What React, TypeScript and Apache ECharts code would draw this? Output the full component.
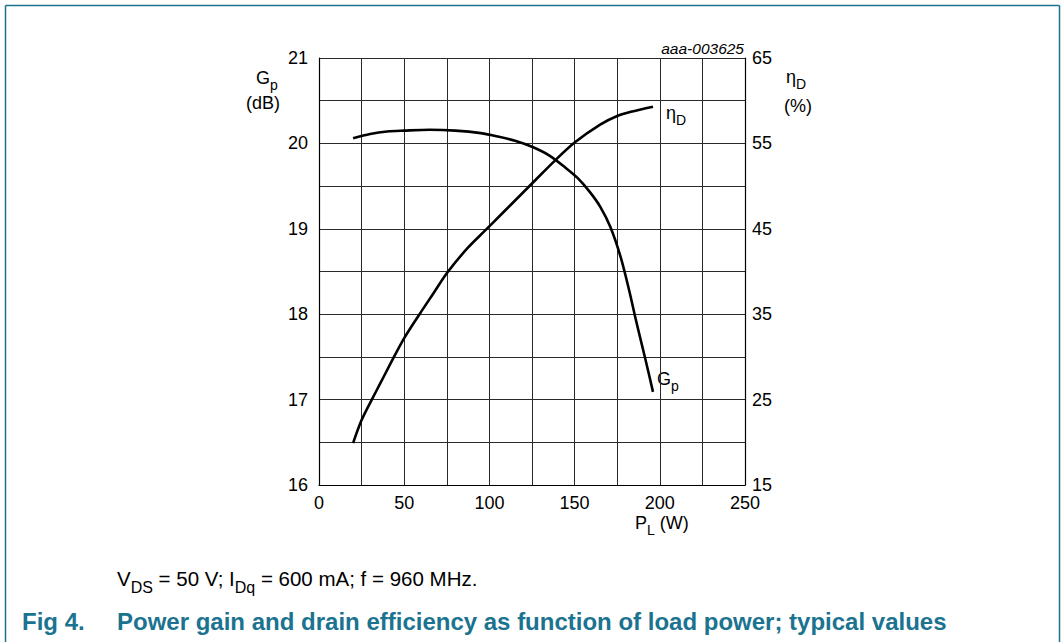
import React, { useEffect, useRef } from "react";
import * as echarts from "echarts";

const gainX = [20, 30, 40, 50, 65, 80, 95, 105, 115, 125, 135, 145, 152, 159, 165, 171, 177, 182, 186, 190, 193, 196];
const gainY = [20.06, 20.11, 20.14, 20.15, 20.16, 20.15, 20.12, 20.08, 20.03, 19.96, 19.86, 19.71, 19.59, 19.43, 19.26, 19.02, 18.67, 18.28, 17.93, 17.6, 17.35, 17.09];
const effX = [20, 25, 31, 37, 44, 50, 59, 67, 75, 87, 98, 106, 118, 125, 138, 150, 165, 175, 183, 196];
const effY = [19.9, 22.6, 25, 27.3, 30, 32.2, 35, 37.4, 39.8, 42.7, 44.9, 46.5, 48.9, 50.3, 52.9, 55.1, 57.2, 58.2, 58.7, 59.3];
const xTickLabels = [0, 50, 100, 150, 200, 250];
const leftTickLabels = [16, 17, 18, 19, 20, 21];
const rightTickLabels = [15, 25, 35, 45, 55, 65];

const FONT = "Liberation Sans, Arial, sans-serif";
const TEAL = "#1b7390";

export default function App() {
  const ref = useRef<HTMLDivElement>(null);
  useEffect(() => {
    if (!ref.current) return;
    const chart = echarts.init(ref.current, null, { renderer: "svg" });
    const mk = (size: number) => {
      const base = { fontSize: size, fontFamily: FONT, color: "#000" };
      const sub = { fontSize: Math.round(size * 0.78), fontFamily: FONT, color: "#000", verticalAlign: "bottom", padding: [0, 0, -Math.round(size * 0.3), 0] };
      return (x: number, y: number, text: string) => ({
        type: "text", x, y, silent: true,
        style: { text, ...base, fill: "#000", rich: { s: sub, n: base } },
      });
    };
    const lbl = mk(18);
    const note = mk(20.5);
    chart.setOption({
      animation: false,
      grid: { left: 319, right: 316, top: 58, bottom: 157, containLabel: false },
      xAxis: {
        type: "value", min: 0, max: 250, interval: 25,
        axisLine: { show: true, lineStyle: { color: "#000", width: 1.2 } },
        axisTick: { show: false },
        splitLine: { show: true, lineStyle: { color: "#2a2a2a", width: 1 } },
        axisLabel: {
          color: "#000", fontSize: 18, fontFamily: FONT, margin: 9,
          formatter: (v: number) => (xTickLabels.includes(v) ? String(v) : ""),
        },
      },
      yAxis: [
        {
          type: "value", min: 16, max: 21, interval: 0.5, position: "left",
          axisLine: { show: true, lineStyle: { color: "#000", width: 1.2 } },
          axisTick: { show: false },
          splitLine: { show: true, lineStyle: { color: "#2a2a2a", width: 1 } },
          axisLabel: {
            color: "#000", fontSize: 18, fontFamily: FONT, margin: 11,
            formatter: (v: number) => (leftTickLabels.includes(v) ? String(v) : ""),
          },
        },
        {
          type: "value", min: 15, max: 65, interval: 5, position: "right",
          axisLine: { show: true, lineStyle: { color: "#000", width: 1.2 } },
          axisTick: { show: false },
          splitLine: { show: false },
          axisLabel: {
            color: "#000", fontSize: 18, fontFamily: FONT, margin: 7,
            formatter: (v: number) => (rightTickLabels.includes(v) ? String(v) : ""),
          },
        },
      ],
      series: [
        {
          type: "line", yAxisIndex: 0, smooth: 0.3, symbol: "none",
          lineStyle: { color: "#000", width: 2.6 },
          data: gainX.map((x, i) => [x, gainY[i]]),
        },
        {
          type: "line", yAxisIndex: 1, smooth: 0.3, symbol: "none",
          lineStyle: { color: "#000", width: 2.6 },
          data: effX.map((x, i) => [x, effY[i]]),
        },
      ],
      graphic: [
        { type: "line", silent: true, shape: { x1: 5.5, y1: 5.5, x2: 1059.5, y2: 5.5 }, style: { stroke: TEAL, lineWidth: 1.5 } },
        { type: "line", silent: true, shape: { x1: 5.5, y1: 5.5, x2: 5.5, y2: 642 }, style: { stroke: TEAL, lineWidth: 1.5 } },
        { type: "line", silent: true, shape: { x1: 1059.5, y1: 5.5, x2: 1059.5, y2: 642 }, style: { stroke: TEAL, lineWidth: 1.5 } },
        lbl(256, 69, "{n|G}{s|p}"),
        lbl(246, 94, "(dB)"),
        lbl(786, 68, "{n|η}{s|D}"),
        lbl(784, 97, "(%)"),
        lbl(635, 514, "{n|P}{s|L}{n| (W)}"),
        lbl(666, 104, "{n|η}{s|D}"),
        lbl(657, 370, "{n|G}{s|p}"),
        { type: "text", x: 744, y: 40, silent: true, style: { text: "aaa-003625", fontSize: 15.5, fontStyle: "italic", fontFamily: FONT, fill: "#000", align: "right" } },
        note(117, 568, "{n|V}{s|DS}{n| = 50 V; I}{s|Dq}{n| = 600 mA; f = 960 MHz.}"),
        { type: "text", x: 22, y: 609, silent: true, style: { text: "Fig 4.", fontSize: 24, fontWeight: "bold", fontFamily: FONT, fill: TEAL } },
        { type: "text", x: 117, y: 609, silent: true, style: { text: "Power gain and drain efficiency as function of load power; typical values", fontSize: 24, fontWeight: "bold", fontFamily: FONT, fill: TEAL } },
      ],
    });
    return () => chart.dispose();
  }, []);
  return (
    <div
      ref={ref}
      style={{ position: "fixed", left: 0, top: 0, width: 1061, height: 642, background: "#fff" }}
    />
  );
}
